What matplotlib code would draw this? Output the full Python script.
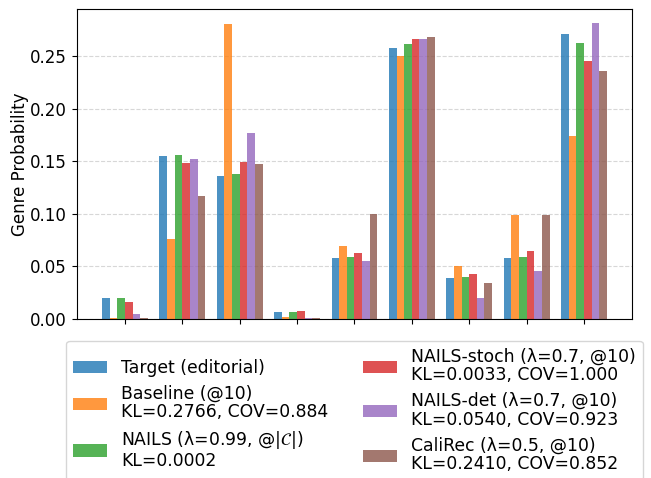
import numpy as np
import matplotlib.pyplot as plt

# genre distribution per method (9 genres)
genres = ["G1", "G2", "G3", "G4", "G5", "G6", "G7", "G8", "G9"]

target = [0.020, 0.155, 0.136, 0.0067, 0.058, 0.258, 0.039, 0.058, 0.2714]
baseline = [0.0008, 0.076, 0.281, 0.002, 0.0695, 0.2505, 0.0505, 0.099, 0.1743]
nails = [0.020, 0.156, 0.138, 0.0067, 0.059, 0.262, 0.040, 0.059, 0.2629]
nails_stoch = [0.016, 0.1486, 0.1495, 0.0076, 0.063, 0.2667, 0.043, 0.0648, 0.2457]
nails_det = [0.0048, 0.152, 0.177, 0.0005, 0.055, 0.2667, 0.020, 0.0457, 0.2819]
calirec = [0.0005, 0.117, 0.1476, 0.0005, 0.100, 0.2686, 0.034, 0.099, 0.2362]

labels = [
    "Target (editorial)",
    "Baseline (@10)\nKL=0.2766, COV=0.884",
    "NAILS (λ=0.99, @$|\\mathcal{C}|$)\nKL=0.0002",
    "NAILS-stoch (λ=0.7, @10)\nKL=0.0033, COV=1.000",
    "NAILS-det (λ=0.7, @10)\nKL=0.0540, COV=0.923",
    "CaliRec (λ=0.5, @10)\nKL=0.2410, COV=0.852",
]
series = [target, baseline, nails, nails_stoch, nails_det, calirec]
colors = ["tab:blue", "tab:orange", "tab:green", "tab:red", "tab:purple", "tab:brown"]


def main():
    fig, ax = plt.subplots(figsize=(6.51, 4.78), dpi=100)
    fig.subplots_adjust(left=0.118, right=0.971, top=0.981, bottom=0.333)

    x = np.arange(len(genres))
    n = len(series)
    width = 0.8 / n
    for i, (vals, lab, c) in enumerate(zip(series, labels, colors)):
        offset = (i - (n - 1) / 2) * width
        ax.bar(x + offset, vals, width=width, color=c, alpha=0.8, label=lab)

    ax.set_xticks(x)
    ax.set_xticklabels([])
    ax.set_ylabel("Genre Probability", fontsize=12, labelpad=1)
    ax.tick_params(axis="y", labelsize=12)
    ax.set_ylim(0, 0.295)
    ax.set_yticks([0.0, 0.05, 0.10, 0.15, 0.20, 0.25])
    ax.set_yticklabels(["0.00", "0.05", "0.10", "0.15", "0.20", "0.25"])
    ax.grid(axis="y", linestyle="--", color="lightgray", alpha=0.9, linewidth=0.8)
    ax.set_axisbelow(True)

    leg = ax.legend(loc="upper center", bbox_to_anchor=(0.5, -0.043), ncol=2,
                    fontsize=12.4, frameon=True, labelspacing=0.45)
    for t in leg.get_texts():
        t.set_linespacing(1.05)

    fig.savefig("out.png", dpi=100)
    plt.close(fig)


if __name__ == "__main__":
    main()
